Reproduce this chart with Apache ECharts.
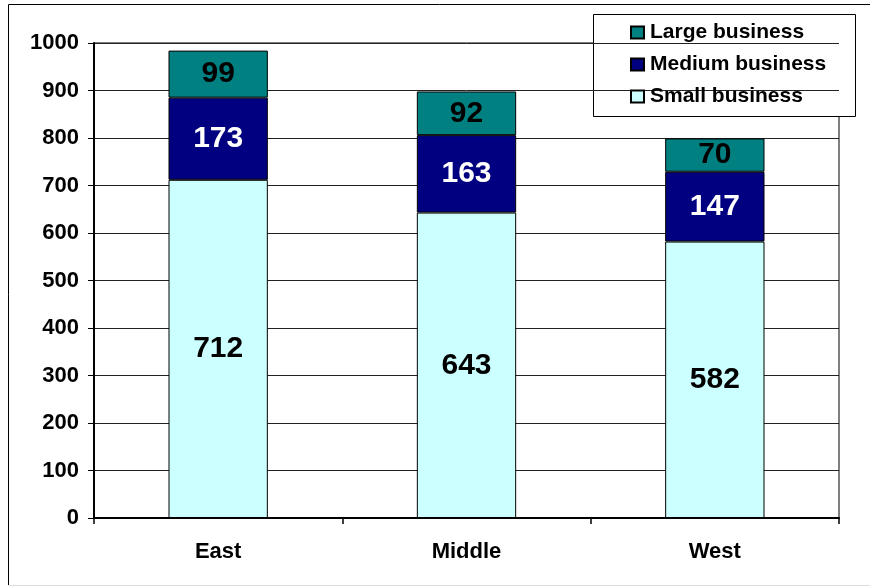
<!DOCTYPE html>
<html>
<head>
<meta charset="utf-8">
<script src="https://cdn.jsdelivr.net/npm/echarts@6/dist/echarts.min.js"></script>
<style>
  html, body { margin: 0; padding: 0; background: #fff; }
  #chart { width: 870px; height: 586px; }
</style>
</head>
<body>
<div id="chart"></div>
<script>
// Business counts by region, stacked from small to large
const regions = ['East', 'Middle', 'West'];
const smallBusiness = [712, 643, 582];
const mediumBusiness = [173, 163, 147];
const largeBusiness = [99, 92, 70];
const yTicks = { min: 0, max: 1000, step: 100 };

const FONT = '"Liberation Sans", Arial, sans-serif';

const chart = echarts.init(document.getElementById('chart'), null, { renderer: 'canvas' });

function barSeries(name, data, color, labelColor) {
  return {
    name: name,
    type: 'bar',
    stack: 'total',
    data: data,
    barWidth: '40%',
    itemStyle: { color: color, borderColor: '#000', borderWidth: 1 },
    label: {
      show: true,
      position: 'inside',
      color: labelColor,
      fontFamily: FONT,
      fontWeight: 'bold',
      fontSize: 30
    },
    emphasis: { disabled: true }
  };
}

chart.setOption({
  animation: false,
  backgroundColor: '#fff',
  grid: {
    left: 94, right: 31, top: 43, bottom: 68,
    show: true, borderColor: '#000', borderWidth: 1
  },
  legend: {
    orient: 'vertical',
    left: 630,
    top: 22,
    padding: 0,
    itemGap: 11,
    itemWidth: 13,
    itemHeight: 12,
    icon: 'rect',
    data: ['Large business', 'Medium business', 'Small business'],
    textStyle: {
      fontFamily: FONT, fontWeight: 'bold', fontSize: 21, color: '#000',
      lineHeight: 20, padding: [0, 0, 0, 1]
    }
  },
  xAxis: {
    type: 'category',
    data: regions,
    axisLine: { lineStyle: { color: '#000', width: 2 } },
    axisTick: { show: true, alignWithLabel: false, length: 6, lineStyle: { color: '#000', width: 1.5 } },
    axisLabel: {
      color: '#000', fontFamily: FONT, fontWeight: 'bold', fontSize: 22, margin: 23
    }
  },
  yAxis: {
    type: 'value',
    min: yTicks.min,
    max: yTicks.max,
    interval: yTicks.step,
    axisLine: { show: true, lineStyle: { color: '#000', width: 2 } },
    axisTick: { show: true, length: 6, lineStyle: { color: '#000', width: 1 } },
    splitLine: { lineStyle: { color: '#222', width: 1 } },
    axisLabel: {
      color: '#000', fontFamily: FONT, fontWeight: 'bold', fontSize: 22, margin: 15,
      formatter: function (v) { return String(v); }
    }
  },
  graphic: [
    // outer chart frame
    { type: 'line', shape: { x1: 8.5, y1: 4.5, x2: 870, y2: 4.5 }, style: { stroke: '#000', lineWidth: 1 }, z: 100 },
    { type: 'line', shape: { x1: 8.5, y1: 4.5, x2: 8.5, y2: 585 }, style: { stroke: '#000', lineWidth: 1 }, z: 100 },
    { type: 'line', shape: { x1: 8.5, y1: 585.5, x2: 870, y2: 585.5 }, style: { stroke: '#ddd', lineWidth: 1 }, z: 100 },
    // legend box
    { type: 'rect', shape: { x: 593.5, y: 14.5, width: 262, height: 102 },
      style: { fill: '#fff', stroke: '#000', lineWidth: 1 }, z: 0, zlevel: 0 }
  ],
  series: [
    barSeries('Small business', smallBusiness, '#CCFFFF', '#000'),
    barSeries('Medium business', mediumBusiness, '#000080', '#fff'),
    barSeries('Large business', largeBusiness, '#008080', '#000')
  ]
});
</script>
</body>
</html>
